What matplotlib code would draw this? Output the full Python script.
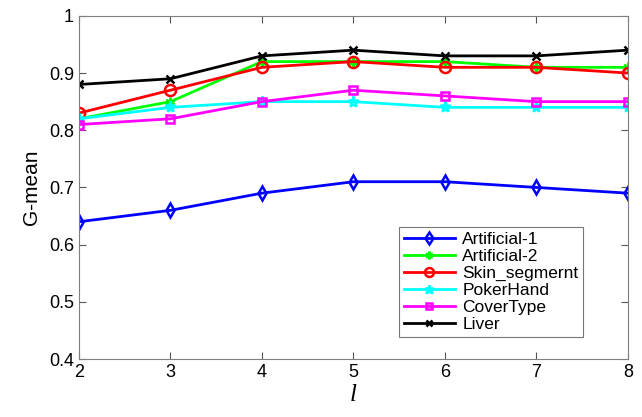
import matplotlib
matplotlib.use("Agg")
import matplotlib.pyplot as plt

x = [2, 3, 4, 5, 6, 7, 8]
names = ["Artificial-1", "Artificial-2", "Skin_segmernt", "PokerHand", "CoverType", "Liver"]
artificial1 = [0.64, 0.66, 0.69, 0.71, 0.71, 0.70, 0.69]
artificial2 = [0.82, 0.85, 0.92, 0.92, 0.92, 0.91, 0.91]
skin = [0.83, 0.87, 0.91, 0.92, 0.91, 0.91, 0.90]
poker = [0.82, 0.84, 0.85, 0.85, 0.84, 0.84, 0.84]
cover = [0.81, 0.82, 0.85, 0.87, 0.86, 0.85, 0.85]
liver = [0.88, 0.89, 0.93, 0.94, 0.93, 0.93, 0.94]
series = [artificial1, artificial2, skin, poker, cover, liver]
colors = ["#0000ff", "#00ff00", "#ff0000", "#00ffff", "#ff00ff", "#000000"]
markers = ["d", (6, 2, 0), "o", "*", "s", "x"]
msizes = [7.5, 7, 8, 8, 6, 5.5]

plt.rcParams['font.family'] = ['Liberation Sans', 'DejaVu Sans']
fig = plt.figure(figsize=(6.42, 4.17), dpi=100)
ax = fig.add_axes([0.123, 0.139, 0.855, 0.823])

for ys, c, m, ms, n in zip(series, colors, markers, msizes, names):
    ax.plot(x, ys, color=c, marker=m, markersize=ms, markerfacecolor='none',
            markeredgecolor=c, markeredgewidth=1.8, linewidth=2, label=n)

ax.set_xlim(2, 8)
ax.set_ylim(0.4, 1.0)
ax.set_xticks(x)
ax.set_yticks([0.4, 0.5, 0.6, 0.7, 0.8, 0.9, 1.0])
ax.set_yticklabels(["0.4", "0.5", "0.6", "0.7", "0.8", "0.9", "1"])
ax.tick_params(direction='in', labelsize=13, length=5, color='#555555', top=True, right=True)
for s in ax.spines.values():
    s.set_color('#7f7f7f')
ax.set_ylabel("G-mean", fontsize=15, labelpad=6)
ax.set_xlabel("l", fontsize=18, fontstyle='italic', family='Liberation Serif', labelpad=2)

leg = ax.legend(loc='lower left', bbox_to_anchor=(0.583, 0.064, 0.335, 0.37), mode='expand',
                fontsize=12.5, frameon=True, fancybox=False, edgecolor='#555555',
                handlelength=2.9, borderaxespad=0, labelspacing=0.1, borderpad=0.3,
                handletextpad=0.45, markerscale=0.8)
leg.get_frame().set_linewidth(0.8)

fig.savefig("out.png", dpi=100)
